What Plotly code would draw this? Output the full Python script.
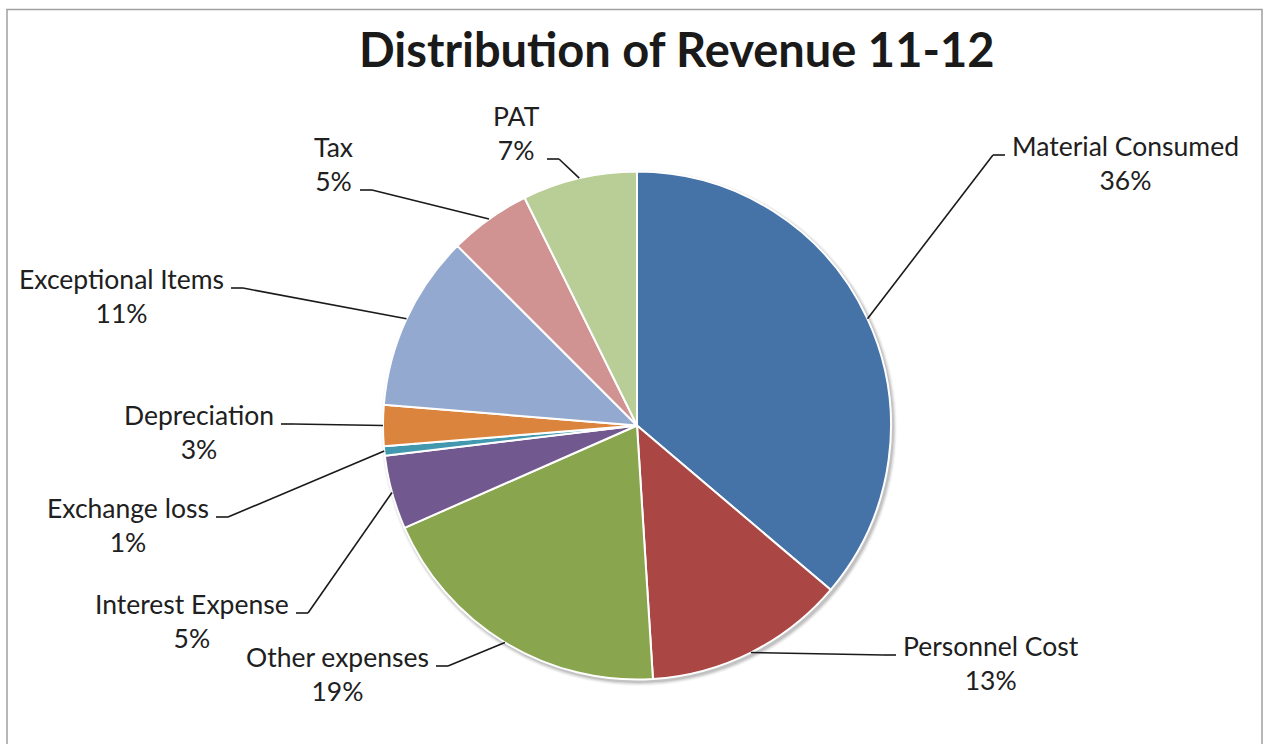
import math
import plotly.graph_objects as go

# Revenue split for FY 11-12 (share of total, %)
categories = ["Material Consumed", "Personnel Cost", "Other expenses", "Interest Expense",
              "Exchange loss", "Depreciation", "Exceptional Items", "Tax", "PAT"]
shares = [36.2, 12.8, 19.4, 4.7, 0.6, 2.6, 11.2, 5.2, 7.3]
slice_colors = ["#4572A7", "#AA4643", "#89A54E", "#71588F", "#4198AF",
                "#DB843D", "#93A9CF", "#D19392", "#B9CD96"]
chart_title = "Distribution of Revenue 11-12"

W, H = 1266, 744
CX, CY, R = 637, 425.5, 254          # pie centre and radius, in pixels
SEG = 12                              # length of the horizontal tail of a leader line
GAP = 6                               # space between a leader line and its label
LINE_H = 34                           # label line spacing
FONT = "Lato, 'Open Sans', sans-serif"
TEXT_COLOR = "#202020"

# Where each leader line bends, which side its label sits on, and which text row it meets
leader_layout = {
    "Material Consumed": dict(elbow=(993, 155), side="right", row=0),
    "Personnel Cost":    dict(elbow=(884, 655), side="right", row=0),
    "Other expenses":    dict(elbow=(448, 666), side="left", row=0),
    "Interest Expense":  dict(elbow=(308, 613), side="left", row=0),
    "Exchange loss":     dict(elbow=(228, 517), side="left", row=0),
    "Depreciation":      dict(elbow=(293, 424), side="left", row=0),
    "Exceptional Items": dict(elbow=(243, 288), side="left", row=0),
    "Tax":               dict(elbow=(372, 190), side="left", row=1),
    "PAT":               dict(elbow=(559, 159), side="left", row=1),
}


def px(x):
    return x / W


def py(y):
    return 1 - y / H


fig = go.Figure(go.Pie(
    labels=categories,
    values=shares,
    sort=False,
    direction="clockwise",
    rotation=0,
    textinfo="none",
    hoverinfo="label+percent",
    marker=dict(colors=slice_colors, line=dict(color="white", width=2)),
    domain=dict(x=[px(CX - R), px(CX + R)], y=[py(CY + R), py(CY - R)]),
    showlegend=False,
))

shapes = []
# soft drop shadow under the pie
for k, alpha in enumerate([0.10, 0.07, 0.05, 0.03]):
    rr = R + 1 + k
    ox, oy = CX + 2, CY + 2.5
    shapes.append(dict(type="circle", xref="paper", yref="paper", layer="below",
                       x0=px(ox - rr), x1=px(ox + rr), y0=py(oy + rr), y1=py(oy - rr),
                       fillcolor=f"rgba(0,0,0,{alpha})", line=dict(width=0)))

# chart frame
shapes.append(dict(type="rect", xref="paper", yref="paper", layer="below",
                   x0=px(7), x1=px(1262), y0=py(H + 20), y1=py(9.5),
                   fillcolor="rgba(0,0,0,0)", line=dict(color="#A0A0A0", width=1.5)))

annotations = [dict(
    text=f"<b>{chart_title}</b>", xref="paper", yref="paper",
    x=px(676), y=py(49), xanchor="center", yanchor="middle", showarrow=False,
    font=dict(family=FONT, size=47, color="#1a1a1a"),
)]

total = sum(shares)
cum = 0.0
for name, value in zip(categories, shares):
    mid = (cum + value / 2) / total * 2 * math.pi
    cum += value
    sx, sy = CX + R * math.sin(mid), CY - R * math.cos(mid)
    lay = leader_layout[name]
    ex, ey = lay["elbow"]
    sign = 1 if lay["side"] == "right" else -1
    tx = ex + sign * SEG
    line_style = dict(color="#1a1a1a", width=1.6)
    shapes.append(dict(type="line", xref="paper", yref="paper",
                       x0=px(sx), y0=py(sy), x1=px(ex), y1=py(ey), line=line_style))
    shapes.append(dict(type="line", xref="paper", yref="paper",
                       x0=px(ex), y0=py(ey), x1=px(tx), y1=py(ey), line=line_style))
    pct = round(value / total * 100)
    block_cy = ey - 9 + (LINE_H / 2 if lay["row"] == 0 else -LINE_H / 2)
    annotations.append(dict(
        text=f"{name}<br>{pct}%", xref="paper", yref="paper",
        x=px(tx + sign * GAP), y=py(block_cy),
        xanchor="left" if sign > 0 else "right", yanchor="middle",
        align="center", showarrow=False, borderpad=0,
        font=dict(family=FONT, size=26.5, color=TEXT_COLOR),
    ))

fig.update_layout(
    width=W, height=H,
    margin=dict(l=0, r=0, t=0, b=0),
    paper_bgcolor="white", plot_bgcolor="white",
    shapes=shapes, annotations=annotations,
)

fig.write_html("out.html")
